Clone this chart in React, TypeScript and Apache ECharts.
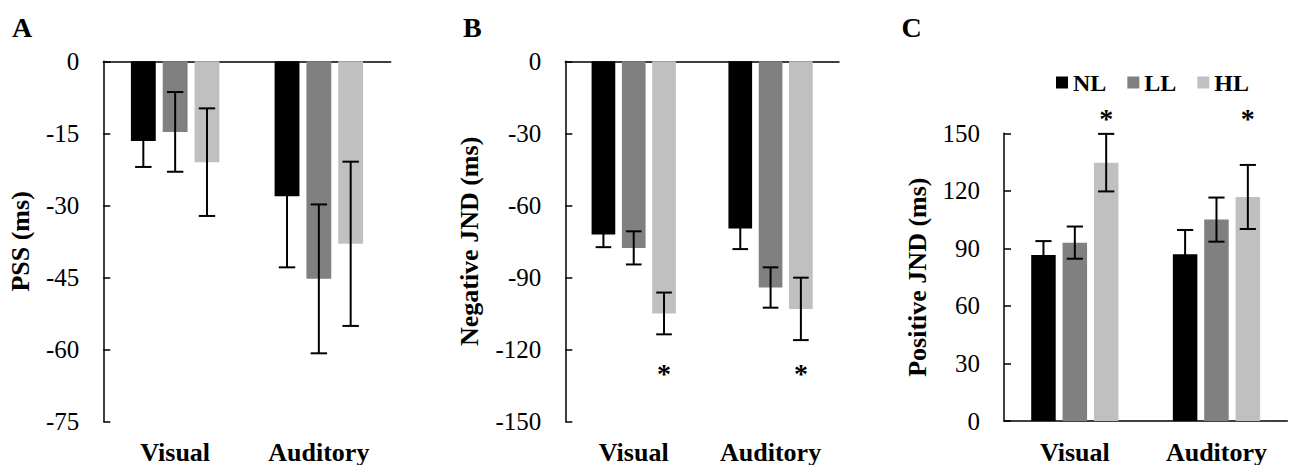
import React, { useEffect, useRef } from 'react';
import * as echarts from 'echarts';

// ---------- data ----------
const categories = ['Visual', 'Auditory'];
const levelNames = ['NL', 'LL', 'HL'];
const levelColors = ['#000000', '#808080', '#c0c0c0'];

// Panel A: PSS (ms)
const pssNL = [-16.6, -28.1];
const pssLL = [-14.7, -45.3];
const pssHL = [-21.0, -38.0];
const pssNLErr = [5.4, 14.8];
const pssLLErr = [8.3, 15.5];
const pssHLErr = [11.2, 17.1];
const pssTicks = { min: -75, max: 0, interval: 15 };

// Panel B: Negative JND (ms)
const negNL = [-72.1, -69.6];
const negLL = [-77.7, -94.2];
const negHL = [-105.0, -103.1];
const negNLErr = [5.3, 8.6];
const negLLErr = [6.9, 8.4];
const negHLErr = [8.7, 13.0];
const negTicks = { min: -150, max: 0, interval: 30 };
const negSignificant = ['Visual', 'Auditory']; // HL marked with *

// Panel C: Positive JND (ms)
const posNL = [86.5, 86.9];
const posLL = [93.0, 105.0];
const posHL = [134.7, 116.8];
const posNLErr = [7.3, 12.7];
const posLLErr = [8.4, 11.5];
const posHLErr = [15.0, 16.7];
const posTicks = { min: 0, max: 150, interval: 30 };
const posSignificant = ['Visual', 'Auditory']; // HL marked with *

// ---------- style / layout ----------
const FONT = "'Liberation Serif', 'Times New Roman', serif";
const BAR_W = 0.173;
const BAR_GAP = 0.28;
const AXIS_STYLE = { color: '#000', width: 1.5 };

const panels = [
  {
    letter: 'A', letterX: 12, title: 'PSS (ms)', nameGap: 70,
    grid: { left: 103.3, top: 61.3, width: 287.4, height: 360.4 },
    ticks: pssTicks, zeroTop: true, labelMargin: 17.5,
    means: [pssNL, pssLL, pssHL], errs: [pssNLErr, pssLLErr, pssHLErr],
    sig: [] as string[], sigValue: 0, sigOffset: 0,
  },
  {
    letter: 'B', letterX: 463, title: 'Negative JND (ms)', nameGap: 83,
    grid: { left: 565.3, top: 61.3, width: 273.7, height: 360.4 },
    ticks: negTicks, zeroTop: true, labelMargin: 17.5,
    means: [negNL, negLL, negHL], errs: [negNLErr, negLLErr, negHLErr],
    sig: negSignificant, sigValue: -130, sigOffset: 0,
  },
  {
    letter: 'C', letterX: 901.5, title: 'Positive JND (ms)', nameGap: 73.5,
    grid: { left: 1004, top: 133.3, width: 283.3, height: 287.7 },
    ticks: posTicks, zeroTop: false, labelMargin: 18,
    means: [posNL, posLL, posHL], errs: [posNLErr, posLLErr, posHLErr],
    sig: posSignificant, sigValue: 150, sigOffset: -14.6,
  },
];

function errorBarRender(params: any, api: any) {
  const cat = api.value(0);
  const mean = api.value(1);
  const err = api.value(2);
  const level = api.value(3);
  const band = api.size([1, 0])[0];
  const w = band * BAR_W;
  const gap = w * BAR_GAP;
  const total = 3 * w + 2 * gap;
  const base = api.coord([cat, mean]);
  const cx = base[0] - total / 2 + w / 2 + level * (w + gap);
  const yTop = api.coord([cat, mean + err])[1];
  const yBot = api.coord([cat, mean - err])[1];
  const half = w * 0.33;
  const style = { stroke: '#000', lineWidth: 2 };
  return {
    type: 'group',
    children: [
      { type: 'line', shape: { x1: cx, y1: yTop, x2: cx, y2: yBot }, style },
      { type: 'line', shape: { x1: cx - half, y1: yTop, x2: cx + half, y2: yTop }, style },
      { type: 'line', shape: { x1: cx - half, y1: yBot, x2: cx + half, y2: yBot }, style },
    ],
  };
}

function buildOption() {
  const grid: any[] = [];
  const xAxis: any[] = [];
  const yAxis: any[] = [];
  const series: any[] = [];
  const graphic: any[] = [];

  panels.forEach((p, pi) => {
    grid.push({ ...p.grid, containLabel: false });
    const xi = xAxis.length;
    xAxis.push({
      type: 'category', gridIndex: pi, data: categories, position: 'bottom',
      axisLine: { show: !p.zeroTop, onZero: false, lineStyle: AXIS_STYLE },
      axisTick: { show: false },
      axisLabel: { fontSize: 26, fontWeight: 'bold', color: '#000', fontFamily: FONT, margin: p.labelMargin },
    });
    if (p.zeroTop) {
      xAxis.push({
        type: 'category', gridIndex: pi, data: categories, position: 'top',
        axisLine: { show: true, onZero: false, lineStyle: AXIS_STYLE },
        axisTick: { show: false }, axisLabel: { show: false },
      });
    }
    yAxis.push({
      type: 'value', gridIndex: pi,
      min: p.ticks.min, max: p.ticks.max, interval: p.ticks.interval,
      name: p.title, nameLocation: 'middle', nameRotate: 90, nameGap: p.nameGap,
      nameTextStyle: { fontSize: 26, fontWeight: 'bold', color: '#000', fontFamily: FONT },
      axisLine: { show: true, onZero: false, lineStyle: AXIS_STYLE },
      axisTick: { show: true, inside: true, length: 7, lineStyle: AXIS_STYLE },
      axisLabel: { fontSize: 25, color: '#000', fontFamily: FONT, margin: 24 },
      splitLine: { show: false },
    });

    levelNames.forEach((lv, li) => {
      const s: any = {
        type: 'bar', name: lv, xAxisIndex: xi, yAxisIndex: pi,
        data: p.means[li], barWidth: (BAR_W * 100).toFixed(1) + '%', barGap: BAR_GAP * 100 + '%',
        itemStyle: { color: levelColors[li] }, silent: true,
      };
      if (li === 2 && p.sig.length) {
        s.markPoint = {
          silent: true,
          symbol: 'rect', symbolSize: 1,
          itemStyle: { color: 'rgba(0,0,0,0)' },
          label: {
            show: true, position: 'inside', formatter: '*', color: '#000',
            fontSize: 28, fontWeight: 'bold', fontFamily: FONT, offset: [0, p.sigOffset],
          },
          data: p.sig.map((c) => ({ coord: [c, p.sigValue] })),
        };
      }
      series.push(s);
    });

    const errData: number[][] = [];
    levelNames.forEach((_, li) => {
      categories.forEach((_c, ci) => {
        errData.push([ci, p.means[li][ci], p.errs[li][ci], li]);
      });
    });
    series.push({
      type: 'custom', xAxisIndex: xi, yAxisIndex: pi, data: errData,
      encode: { x: 0, y: 1 }, renderItem: errorBarRender, z: 5, silent: true, clip: false,
    });

    graphic.push({
      type: 'text', left: p.letterX, top: 13,
      style: { text: p.letter, fontSize: 28, fontWeight: 'bold', fontFamily: FONT, fill: '#000' },
    });
  });

  return {
    animation: false,
    backgroundColor: '#ffffff',
    grid, xAxis, yAxis, series, graphic,
    legend: {
      data: levelNames, left: 1051, top: 65.5,
      itemWidth: 12, itemHeight: 12, itemGap: 21, icon: 'rect', selectedMode: false,
      textStyle: { fontSize: 24, fontWeight: 'bold', fontFamily: FONT, color: '#000' },
    },
  };
}

export default function App() {
  const ref = useRef<HTMLDivElement>(null);
  useEffect(() => {
    if (!ref.current) return;
    const chart = echarts.init(ref.current, undefined, { renderer: 'svg' });
    chart.setOption(buildOption() as any);
    return () => chart.dispose();
  }, []);
  return (
    <div
      ref={ref}
      style={{ position: 'absolute', left: 0, top: 0, width: 1291, height: 465, background: '#fff' }}
    />
  );
}
